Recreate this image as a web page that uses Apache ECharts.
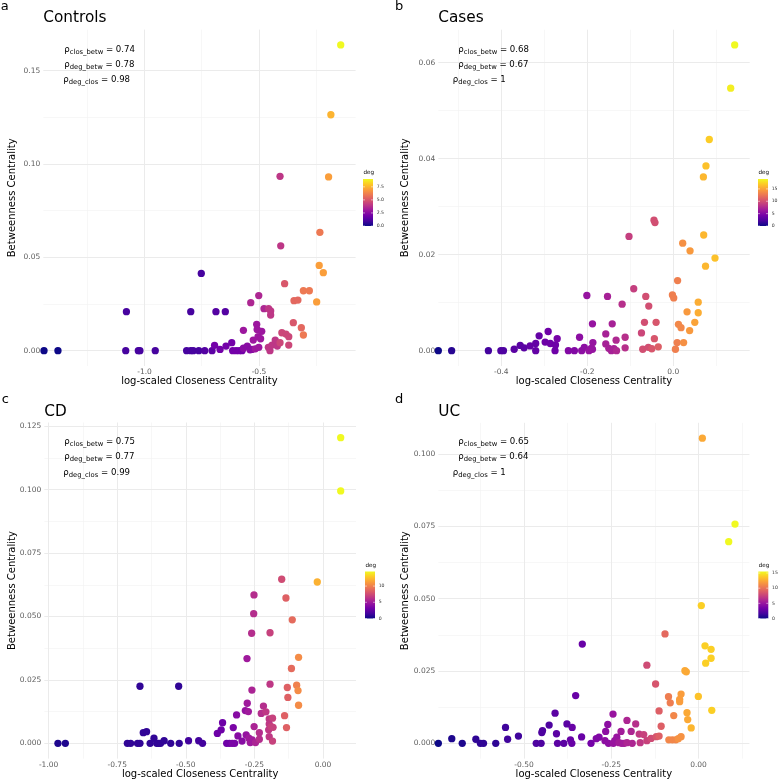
<!DOCTYPE html>
<html><head><meta charset="utf-8">
<script src="https://cdn.jsdelivr.net/npm/echarts@6/dist/echarts.min.js"></script>
<style>html,body{margin:0;padding:0;background:#fff}#c{width:778px;height:781px}</style>
</head><body><div id="c"></div>
<script>
// ---------- data ----------
const panelNames = ['Controls', 'Cases', 'CD', 'UC'];
const panelLetters = ['a', 'b', 'c', 'd'];

// [log-scaled closeness, betweenness, deg]
const controlsPts = [
 [-1.439,0,0],[-1.378,0,0],[-1.082,0,1],[-1.079,0.0209,1],[-1.027,0,1],[-1.020,0,1],[-0.953,0,1],
 [-0.816,0,1],[-0.798,0,1],[-0.787,0,1],[-0.798,0.0209,1],[-0.763,0,1],[-0.752,0.0414,1],
 [-0.737,0,1.3],[-0.705,0,1.5],[-0.688,0.0209,1.3],[-0.647,0.0209,1.3],
 [-0.694,0.0029,2],[-0.670,0.0007,2],[-0.644,0.0025,2],[-0.619,0.0043,2],[-0.615,0,2],[-0.600,0,2],
 [-0.586,0,2],[-0.574,0,2],[-0.568,0.0013,2.5],[-0.568,0.0109,3],[-0.551,0.0025,2.5],[-0.539,0.0005,2.5],
 [-0.531,0.0007,2.5],[-0.516,0.0010,3],[-0.501,0.0018,3],[-0.525,0.0057,3],[-0.504,0.0075,3],
 [-0.493,0.0064,3],[-0.510,0.0141,3],[-0.508,0.0114,3],[-0.488,0.0104,3],[-0.536,0.0257,3.5],
 [-0.501,0.0295,3.5],[-0.478,0.0225,3.5],[-0.458,0.0225,4],[-0.449,0.0213,4],[-0.449,0.0191,4],
 [-0.459,0.0018,4],[-0.452,0,4],[-0.443,0.0030,4],[-0.429,0.0057,4],[-0.420,0.0025,4],[-0.408,0.0043,4.5],
 [-0.400,0.0096,4.5],[-0.382,0.0089,4.5],[-0.370,0.0075,4.5],[-0.370,0.0030,4.5],[-0.350,0.0150,5],
 [-0.315,0.0123,5.5],[-0.306,0.0084,6],[-0.388,0.0359,5],[-0.347,0.0268,5.5],[-0.330,0.0271,5.5],
 [-0.306,0.0321,6],[-0.280,0.0321,6],[-0.248,0.0261,7],[-0.408,0.0934,4],[-0.405,0.0562,4],
 [-0.234,0.0634,6],[-0.237,0.0457,7],[-0.219,0.0418,7],[-0.196,0.0931,7],[-0.186,0.1264,7.5],[-0.143,0.1638,9]
];
const casesPts = [
 [-0.5465,0,0],[-0.5155,0,1],[-0.430,0,2],[-0.401,0,2.5],[-0.395,0,2.5],[-0.370,0.0003,3],[-0.356,0.0011,3],
 [-0.347,0.0006,3],[-0.333,0.0010,3.5],[-0.320,0.0015,3.5],[-0.320,0,3.5],[-0.312,0.0031,3.5],[-0.298,0.0018,4],
 [-0.291,0.0040,4],[-0.286,0.0015,4],[-0.275,0,4],[-0.274,0.0012,4],[-0.270,0.0025,4.5],[-0.244,0,5],
 [-0.230,0,5],[-0.218,0.0028,5.5],[-0.213,0,5.5],[-0.207,0.0007,5.5],[-0.196,0,6],[-0.191,0.0005,6],
 [-0.188,0.0003,6],[-0.187,0.0017,6],[-0.201,0.0115,6],[-0.188,0.0056,6],[-0.157,0.0035,7],[-0.157,0.0014,7],
 [-0.153,0.0113,7],[-0.142,0.0056,7],[-0.150,0.0005,7],[-0.144,0,7],[-0.138,0.0004,7],[-0.132,0,7.5],
 [-0.133,0.0022,7.5],[-0.119,0.0097,8],[-0.112,0.0028,8],[-0.112,0.0006,8],[-0.092,0.0129,9],
 [-0.074,0.0037,9.5],[-0.067,0.0059,10],[-0.064,0.0113,10],[-0.071,0.0003,10],[-0.057,0.0093,10],
 [-0.058,0.0007,10],[-0.050,0.0004,10.5],[-0.044,0.0025,10.5],[-0.040,0.0059,10.5],[-0.035,0.0008,11],
 [-0.0449,0.0272,10],[-0.0426,0.0267,10],[-0.103,0.0238,9],[-0.002,0.0116,13],[0.001,0.0110,13],
 [0.005,0.0003,13],[0.009,0.0017,13],[0.010,0.0146,13],[0.012,0.0055,13.5],[0.018,0.0048,13.5],
 [0.024,0.0017,14],[0.032,0.0081,14.5],[0.038,0.0042,14.5],[0.050,0.0059,15],[0.058,0.0101,15.5],
 [0.058,0.0079,15.5],[0.0219,0.0224,14],[0.039,0.0208,14.5],[0.075,0.0176,16],[0.097,0.0193,16.5],
 [0.0707,0.0241,16],[0.070,0.0362,16],[0.076,0.0385,16.5],[0.0837,0.0440,17],[0.1335,0.0547,18.5],[0.1428,0.0637,19]
];
const cdPts = [
 [-1.0168,0,0],[-0.966,0,0.5],[-0.939,0,0.5],[-0.713,0,1],[-0.701,0,1],[-0.676,0,1],[-0.667,0,1],
 [-0.655,0.0042,1],[-0.643,0.0046,1],[-0.630,0,1],[-0.616,0.0020,1],[-0.606,0,1],[-0.599,0,1],[-0.592,0,1],
 [-0.579,0.0010,1],[-0.555,0,1],[-0.524,0,1],[-0.490,0.0010,1.5],[-0.453,0.0010,1.5],[-0.439,0,1.5],
 [-0.667,0.0225,1],[-0.526,0.0225,1],
 [-0.385,0.0039,3],[-0.371,0.0053,3],[-0.366,0.0081,3],[-0.351,0,3],[-0.341,0,3],[-0.331,0,3.5],[-0.322,0,3.5],
 [-0.327,0.0062,3.5],[-0.315,0.0112,4],[-0.310,0.0029,4],[-0.295,0.0009,4],[-0.283,0.0129,4.5],[-0.280,0.0033,4.5],
 [-0.277,0.0334,5],[-0.272,0.0125,5],[-0.276,0.0158,5],[-0.270,0.0020,5],[-0.265,0.0003,5],[-0.258,0.0013,5],
 [-0.259,0.0210,5.5],[-0.251,0.0066,5.5],[-0.246,0.0003,5.5],[-0.232,0.0016,6],[-0.232,0.0042,6],
 [-0.225,0.0118,6],[-0.217,0.0147,6],[-0.208,0.0124,6.5],[-0.198,0.0053,6.5],[-0.196,0.0026,6.5],
 [-0.193,0.0233,6.5],[-0.196,0.0096,6.5],[-0.184,0.0099,7],[-0.196,0.0076,6.5],[-0.189,0.0066,7],
 [-0.182,0.0063,7],[-0.184,0.0009,7],
 [-0.2515,0.0585,6],[-0.2526,0.0511,6],[-0.260,0.0434,6],[-0.193,0.0436,7],
 [-0.140,0.0109,8.5],[-0.133,0.0062,8.5],[-0.130,0.0220,8.5],[-0.128,0.0181,8.5],[-0.115,0.0295,9],
 [-0.096,0.0229,10],[-0.091,0.0208,10.5],[-0.089,0.0150,10.5],[-0.089,0.0339,10.5],[-0.1505,0.0647,7.5],
 [-0.135,0.0573,8.5],[-0.112,0.0487,9],[-0.0208,0.0636,12],[0.0645,0.1205,14.5],[0.0645,0.0995,14.5]
];
const ucPts = [
 [-0.7455,0,0],[-0.707,0.0016,0.5],[-0.677,0,0.5],[-0.638,0.0014,1],[-0.625,0,1],[-0.616,0,1],[-0.581,0,1],
 [-0.553,0.0055,1.5],[-0.547,0.0014,1.5],[-0.516,0.0025,1.5],[-0.465,0,2],[-0.451,0,2],[-0.449,0.0037,2],
 [-0.447,0.0044,2],[-0.428,0.0063,2],[-0.411,0.0104,2.5],[-0.407,0.0033,2.5],[-0.404,0,2.5],[-0.386,0,2.5],
 [-0.377,0.0067,2.5],[-0.367,0.0012,3],[-0.363,0,3],[-0.362,0.0055,3],[-0.352,0.0165,3],[-0.333,0.0343,3],
 [-0.335,0.0022,3],[-0.308,0,3.5],[-0.293,0.0016,4],[-0.285,0.0021,4],[-0.268,0.0009,4.5],[-0.266,0.0041,4.5],
 [-0.260,0.0065,4.5],[-0.258,0,4.5],[-0.245,0.0101,5],[-0.244,0,5],[-0.240,0.0009,5],[-0.234,0.0021,5],
 [-0.222,0.0041,5.5],[-0.228,0.0002,5.5],[-0.220,0,5.5],[-0.213,0,5.5],[-0.205,0.0002,6],[-0.205,0.0079,6],
 [-0.193,0.0041,6],[-0.190,0,6],[-0.180,0.0067,6.5],[-0.170,0.0032,7],[-0.167,0.0002,7],[-0.157,0.0030,7.5],
 [-0.148,0.0009,7.5],[-0.148,0.0270,8],[-0.136,0.0017,8],[-0.123,0.0205,8.5],[-0.121,0.0023,8.5],
 [-0.113,0.0112,9],[-0.113,0.0025,9],[-0.107,0.0059,9],[-0.096,0.0378,9.5],[-0.086,0.0161,10.5],
 [-0.081,0.0140,10.5],[-0.085,0.0012,11],[-0.075,0.0012,11],[-0.065,0.0012,11],[-0.071,0.0096,11],
 [-0.058,0.0016,11.5],[-0.050,0.0023,11.5],[-0.054,0.0152,12],[-0.054,0.0144,12],[-0.050,0.0170,12],
 [-0.039,0.0251,12.5],[-0.035,0.0247,12.5],[-0.033,0.0106,12.5],[-0.031,0.0082,12.5],[-0.021,0.0053,13],
 [-0.0005,0.0162,13.5],[0.0205,0.0277,14],[0.036,0.0294,14],[0.038,0.0114,14],[0.0186,0.0337,14],
 [0.036,0.0325,14],[0.008,0.0476,14],[0.011,0.1055,12.5],[0.0865,0.0697,15.5],[0.1046,0.0758,15.5]
];
const panelPts = [controlsPts, casesPts, cdPts, ucPts];

// colour scale limits (deg) and legend ticks
const degMax = [9, 19, 14.5, 15.5];
const degTicks = [[0, 2.5, 5, 7.5], [0, 5, 10, 15], [0, 5, 10], [0, 5, 10, 15]];
const degTickLabels = [['0.0', '2.5', '5.0', '7.5'], ['0', '5', '10', '15'], ['0', '5', '10'], ['0', '5', '10', '15']];

// correlation annotations
const rhoKeys = ['clos_betw', 'deg_betw', 'deg_clos'];
const rhoValues = [['0.74', '0.78', '0.98'], ['0.68', '0.67', '1'], ['0.75', '0.77', '0.99'], ['0.65', '0.64', '1']];

// axis ticks
const xMajorTicks = [[-1.0, -0.5], [-0.4, -0.2, 0.0], [-1.0, -0.75, -0.5, -0.25, 0], [-0.5, -0.25, 0]];
const xTickLabels = [['-1.0', '-0.5'], ['-0.4', '-0.2', '0.0'], ['-1.00', '-0.75', '-0.50', '-0.25', '0.00'], ['-0.50', '-0.25', '0.00']];
const xMinorTicks = [[-1.25, -0.75, -0.25], [-0.5, -0.3, -0.1, 0.1], [-0.875, -0.625, -0.375, -0.125], [-0.625, -0.375, -0.125, 0.125]];
const yMajorTicks = [[0, 0.05, 0.10, 0.15], [0, 0.02, 0.04, 0.06], [0, 0.025, 0.05, 0.075, 0.1, 0.125], [0, 0.025, 0.05, 0.075, 0.1]];
const yTickLabels = [['0.00', '0.05', '0.10', '0.15'], ['0.00', '0.02', '0.04', '0.06'], ['0.000', '0.025', '0.050', '0.075', '0.100', '0.125'], ['0.000', '0.025', '0.050', '0.075', '0.100']];
const yMinorTicks = [[0.025, 0.075, 0.125], [0.01, 0.03, 0.05], [0.0125, 0.0375, 0.0625, 0.0875, 0.1125], [0.0125, 0.0375, 0.0625, 0.0875]];

const xTitle = 'log-scaled Closeness Centrality';
const yTitle = 'Betweenness Centrality';

// ---------- layout / style ----------
const FONT = 'DejaVu Sans';
const plasma = ['#0D0887', '#47039F', '#7301A8', '#9C179E', '#BD3786', '#D8576B', '#ED7953', '#FA9E3B', '#FDC926', '#F0F921'];
const grids = [
  { left: 43.3, top: 29.6, width: 312.3, height: 336.4 },
  { left: 438.3, top: 29.7, width: 311.4, height: 336.3 },
  { left: 44.3, top: 422.5, width: 311.7, height: 336.1 },
  { left: 438.3, top: 422.8, width: 311.1, height: 335.8 }
];
const xRanges = [[-1.442, -0.078], [-0.5465, 0.1777], [-1.0157, 0.1203], [-0.7456, 0.1458]];
const yRanges = [[-0.0082, 0.172], [-0.00319, 0.066875], [-0.00603, 0.1265], [-0.00529, 0.1108]];
const letterPos = [[0.7, 6.2], [395, 6.2], [1.7, 399.5], [395, 399.5]];
const titleY = [18.5, 18.5, 411.8, 411.8];
const annotX = [[64.3, 64.3, 63.3], [458.3, 458.3, 452.7], [64.3, 64.3, 63.3], [458.3, 458.3, 452.7]];
const annotY0 = [49.5, 49.5, 441.7, 441.7];
const barBox = [[363, 179, 10, 47], [758, 179, 10, 47], [365, 571.5, 10, 47], [758.3, 571.5, 10, 47]];

function lookupLabel(ticks, labels, v) {
  for (let i = 0; i < ticks.length; i++) if (Math.abs(ticks[i] - v) < 1e-9) return labels[i];
  return '';
}

const option = {
  animation: false,
  backgroundColor: '#fff',
  grid: grids.map(g => Object.assign({ containLabel: false, outerBoundsMode: 'none' }, g)),
  xAxis: [],
  yAxis: [],
  visualMap: [],
  series: [],
  graphic: []
};

for (let i = 0; i < 4; i++) {
  const gridLine = { show: true, lineStyle: { color: '#EBEBEB', width: 1 } };
  const minorLine = { show: true, lineStyle: { color: '#F2F2F2', width: 0.6 } };
  // minor x (drawn first)
  option.xAxis.push({
    type: 'value', gridIndex: i, min: xRanges[i][0], max: xRanges[i][1], position: 'bottom',
    axisLine: { show: false }, axisTick: { show: false, customValues: xMinorTicks[i] },
    axisLabel: { show: false }, splitLine: minorLine, z: 0
  });
  option.xAxis.push({
    type: 'value', gridIndex: i, min: xRanges[i][0], max: xRanges[i][1], position: 'bottom',
    axisLine: { show: false }, axisTick: { show: false, customValues: xMajorTicks[i] },
    axisLabel: {
      show: true, customValues: xMajorTicks[i], margin: 2.5, fontSize: 7.5, fontFamily: FONT, color: '#5E5E5E',
      formatter: (v) => lookupLabel(xMajorTicks[i], xTickLabels[i], v)
    },
    splitLine: gridLine, z: 1
  });
  option.yAxis.push({
    type: 'value', gridIndex: i, min: yRanges[i][0], max: yRanges[i][1], position: 'left',
    axisLine: { show: false }, axisTick: { show: false, customValues: yMinorTicks[i] },
    axisLabel: { show: false }, splitLine: minorLine, z: 0
  });
  option.yAxis.push({
    type: 'value', gridIndex: i, min: yRanges[i][0], max: yRanges[i][1], position: 'left',
    axisLine: { show: false }, axisTick: { show: false, customValues: yMajorTicks[i] },
    axisLabel: {
      show: true, customValues: yMajorTicks[i], margin: 3, fontSize: 7.5, fontFamily: FONT, color: '#5E5E5E',
      formatter: (v) => lookupLabel(yMajorTicks[i], yTickLabels[i], v)
    },
    splitLine: gridLine, z: 1
  });
  option.series.push({
    type: 'scatter', xAxisIndex: 2 * i + 1, yAxisIndex: 2 * i + 1,
    data: panelPts[i], symbol: 'circle', symbolSize: 7.3, clip: true,
    itemStyle: { opacity: 1 }, z: 5
  });
  option.visualMap.push({
    type: 'continuous', show: false, seriesIndex: i, dimension: 2,
    min: 0, max: degMax[i], inRange: { color: plasma }
  });

  const g = grids[i];
  // panel letter
  option.graphic.push({ type: 'text', x: letterPos[i][0], y: letterPos[i][1],
    style: { text: panelLetters[i], fontSize: 13, fontFamily: FONT, fill: '#000', align: 'left', verticalAlign: 'middle', textAlign: 'left', textVerticalAlign: 'middle' } });
  // title
  option.graphic.push({ type: 'text', x: g.left, y: titleY[i],
    style: { text: panelNames[i], fontSize: 15.3, fontFamily: FONT, fill: '#000', align: 'left', verticalAlign: 'middle', textAlign: 'left', textVerticalAlign: 'middle' } });
  // axis titles
  option.graphic.push({ type: 'text', x: g.left + g.width / 2, y: g.top + g.height + 15.8,
    style: { text: xTitle, fontSize: 10, fontFamily: FONT, fill: '#000', align: 'center', verticalAlign: 'middle', textAlign: 'center', textVerticalAlign: 'middle' } });
  option.graphic.push({ type: 'text', x: (i % 2 === 0 ? 12.5 : 405.7), y: g.top + g.height / 2, rotation: Math.PI / 2,
    style: { text: yTitle, fontSize: 10, fontFamily: FONT, fill: '#000', align: 'center', verticalAlign: 'middle', textAlign: 'center', textVerticalAlign: 'middle' } });
  // correlation annotations
  for (let k = 0; k < 3; k++) {
    option.graphic.push({ type: 'text', x: annotX[i][k], y: annotY0[i] + k * 15.3, z: 20,
      style: {
        text: '{r|\u03C1}{s|' + rhoKeys[k] + '}{r| = ' + rhoValues[i][k] + '}',
        align: 'left', verticalAlign: 'middle', textAlign: 'left', textVerticalAlign: 'middle',
        rich: {
          r: { fontSize: 8.6, fontFamily: FONT, fill: '#000', lineHeight: 12 },
          s: { fontSize: 6.8, fontFamily: FONT, fill: '#000', lineHeight: 8, padding: [5, 0, 0, 0] }
        }
      } });
  }
  // colour bar legend
  const bb = barBox[i];
  const stops = plasma.map((c, j) => ({ offset: j / (plasma.length - 1), color: c }));
  option.graphic.push({ type: 'rect', shape: { x: bb[0], y: bb[1], width: bb[2], height: bb[3] },
    style: { fill: { type: 'linear', x: 0, y: 1, x2: 0, y2: 0, colorStops: stops } } });
  option.graphic.push({ type: 'text', x: bb[0] + 0.5, y: bb[1] - 6,
    style: { text: 'deg', fontSize: 5.6, fontFamily: FONT, fill: '#000', align: 'left', verticalAlign: 'middle', textAlign: 'left', textVerticalAlign: 'middle' } });
  degTicks[i].forEach((t, j) => {
    const yy = bb[1] + bb[3] - (t / degMax[i]) * bb[3];
    option.graphic.push({ type: 'text', x: bb[0] + bb[2] + 3.7, y: yy,
      style: { text: degTickLabels[i][j], fontSize: 4.6, fontFamily: FONT, fill: '#333', align: 'left', verticalAlign: 'middle', textAlign: 'left', textVerticalAlign: 'middle' } });
    option.graphic.push({ type: 'line', shape: { x1: bb[0], y1: yy, x2: bb[0] + 2, y2: yy }, style: { stroke: '#fff', lineWidth: 0.5 } });
    option.graphic.push({ type: 'line', shape: { x1: bb[0] + bb[2] - 2, y1: yy, x2: bb[0] + bb[2], y2: yy }, style: { stroke: '#fff', lineWidth: 0.5 } });
  });
}

const chart = echarts.init(document.getElementById('c'), null, { renderer: 'canvas', width: 778, height: 781 });
chart.setOption(option);
</script>
</body></html>
